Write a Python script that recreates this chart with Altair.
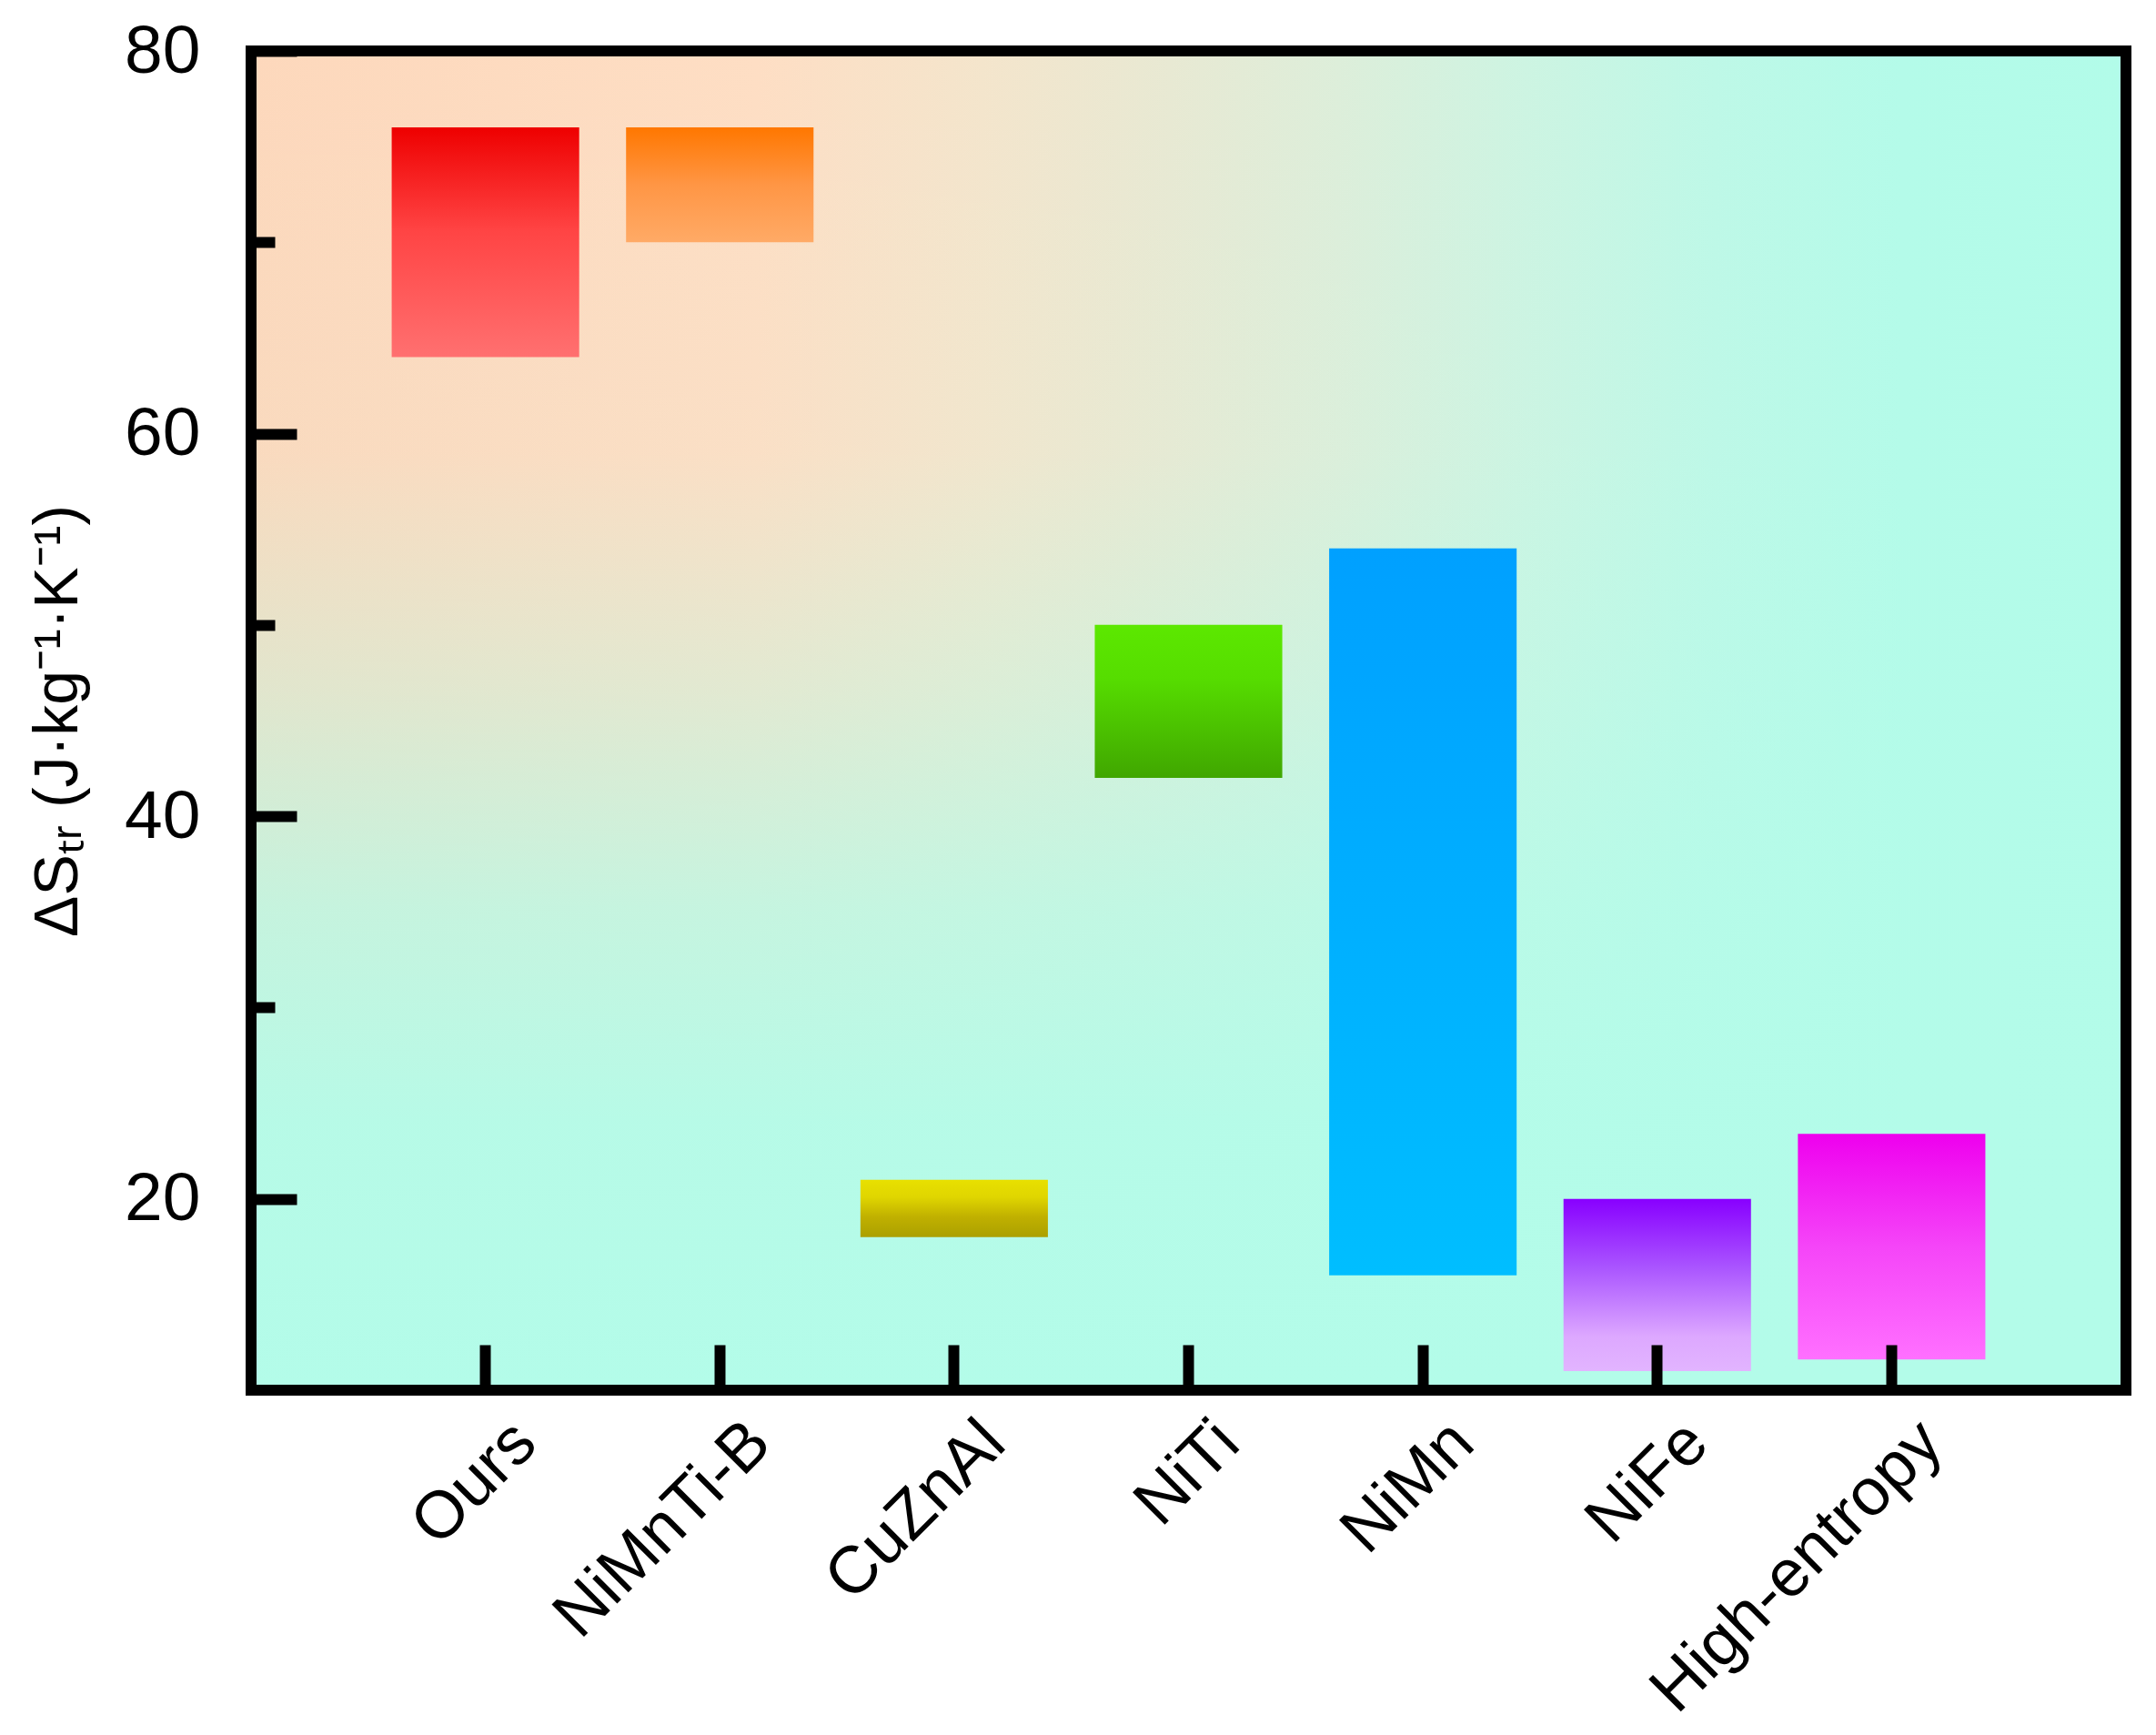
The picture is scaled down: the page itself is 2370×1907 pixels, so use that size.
import altair as alt
import pandas as pd

# ---- data ----
materials = ["Ours", "NiMnTi-B", "CuZnAl", "NiTi", "NiMn", "NiFe", "High-entropy"]
ds_low = [64, 70, 18, 42, 16, 11, 11.6]
ds_high = [76, 76, 21, 50, 54, 20, 23.4]

y_domain = [10, 80]
y_tick_values = [20, 30, 40, 50, 60, 70, 80]
y_title = "ΔSₜᵣ (J·kg⁻¹·K⁻¹)"

# vertical gradient (top -> bottom) of each bar
bar_stops = {
    "Ours": [("#EE0000", 0), ("#FF4444", 0.45), ("#FF7070", 1)],
    "NiMnTi-B": [("#FF7700", 0), ("#FF9645", 0.5), ("#FFAA66", 1)],
    "CuZnAl": [("#E8E000", 0), ("#E0D600", 0.3), ("#C0B000", 0.65), ("#ABA000", 1)],
    "NiTi": [("#5CE800", 0), ("#56DD00", 0.35), ("#40A600", 1)],
    "NiMn": [("#00A0FF", 0), ("#00BEFF", 1)],
    "NiFe": [("#8800FF", 0), ("#AA55FF", 0.4), ("#DDA8FF", 0.8), ("#E2B4FF", 1)],
    "High-entropy": [("#EE00EE", 0), ("#F545F8", 0.5), ("#FF70FF", 1)],
}

# background: horizontal peach -> mint, overlaid by a vertical transparent -> mint
bg_h_stops = [("#FDD8BC", 0), ("#FEDEC4", 0.27), ("#F4E5CC", 0.39), ("#E8E9D3", 0.49),
              ("#DDEEDA", 0.58), ("#CDF4E2", 0.68), ("#BEF8E7", 0.78), ("#B4FBE9", 0.88),
              ("#B2FCE9", 1)]
bg_v_stops = [("rgba(179,252,233,0)", 0), ("rgba(179,252,233,0.05)", 0.3),
              ("rgba(179,252,233,0.38)", 0.48), ("rgba(179,252,233,0.75)", 0.64),
              ("rgba(179,252,233,0.95)", 0.8), ("rgba(179,252,233,1)", 1)]

FONT = "Liberation Sans"

df = pd.DataFrame({"material": materials, "low": ds_low, "high": ds_high})


def grad(stops, x2=0, y2=1):
    return alt.LinearGradient(
        gradient="linear",
        stops=[alt.GradientStop(color=c, offset=o) for c, o in stops],
        x1=0, y1=0, x2=x2, y2=y2,
    )


x_enc = alt.X(
    "material:N",
    scale=alt.Scale(domain=materials, paddingInner=0.2, paddingOuter=0.6),
    axis=alt.Axis(
        title=None, domain=False, grid=False,
        offset=-50, tickSize=50, tickWidth=12, tickColor="black",
        labelAngle=-45, labelAlign="right", labelBaseline="middle",
        labelPadding=46, labelOffset=44, labelFontSize=73, labelColor="black",
        labelFont=FONT, labelLimit=0, labelOverlap=False, zindex=1,
    ),
)

y_enc = alt.Y(
    "low:Q",
    scale=alt.Scale(domain=y_domain, nice=False, zero=False),
    axis=alt.Axis(
        title=y_title, values=y_tick_values, domain=False, grid=False,
        offset=-50, tickSize=50, tickWidth=12, tickColor="black",
        tickDash={"condition": {"test": "datum.value % 20 != 0", "value": [26, 24]},
                  "value": [60, 0]},
        tickDashOffset={"condition": {"test": "datum.value % 20 != 0", "value": 26},
                        "value": 0},
        labelExpr="datum.value % 20 == 0 ? datum.label : ''",
        labelPadding=56, labelFontSize=75, labelColor="black", labelFont=FONT,
        labelLimit=0,
        titleFont=FONT, titleFontSize=68, titleFontWeight="normal", titleColor="black",
        titlePadding=38, zindex=1,
    ),
)

bg_data = alt.Data(values=[{"bg": 1}])
full_rect = dict(x=alt.value(0), x2=alt.value("width"), y=alt.value(0), y2=alt.value("height"))
bg_h = alt.Chart(bg_data).mark_rect(color=grad(bg_h_stops, x2=1, y2=0)).encode(**full_rect)
bg_v = alt.Chart(bg_data).mark_rect(color=grad(bg_v_stops, x2=0, y2=1)).encode(**full_rect)
frame = alt.Chart(bg_data).mark_rect(
    filled=False, stroke="black", strokeWidth=12
).encode(**full_rect)

bars = []
for name in materials:
    bars.append(
        alt.Chart(df)
        .transform_filter(alt.datum.material == name)
        .mark_bar(color=grad(bar_stops[name]))
        .encode(x=x_enc, y=y_enc, y2="high:Q")
    )

chart = (
    alt.layer(bg_h, bg_v, *bars, frame)
    .properties(
        width=2061, height=1472,
        autosize=alt.AutoSizeParams(type="none"),
        padding={"left": 268, "top": 48, "right": 25, "bottom": 371},
        background="white",
    )
    .configure_view(strokeWidth=0)
)

chart.save("out.html", embed_options={"renderer": "svg", "actions": False})
